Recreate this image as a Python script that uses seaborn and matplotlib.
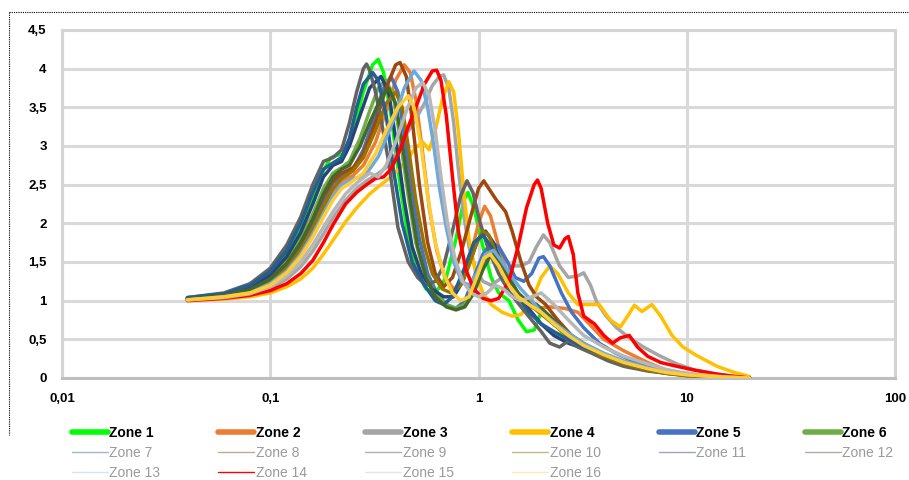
import matplotlib
matplotlib.use("Agg")
import matplotlib.pyplot as plt
from matplotlib.lines import Line2D
from matplotlib.ticker import FixedLocator, FixedFormatter, NullLocator
import seaborn as sns
import pandas as pd

# ---------------- data (frequency [Hz], amplification) ----------------
zone_names = [f"Zone {i}" for i in range(1, 17)]

zone1 = [(0.04,1.03),(0.06,1.08),(0.08,1.18),(0.10,1.35),(0.12,1.60),(0.14,1.92),(0.16,2.30),(0.18,2.68),
         (0.195,2.85),(0.21,2.88),(0.23,2.90),(0.25,3.20),(0.28,3.70),(0.31,4.05),(0.33,4.12),(0.35,3.95),
         (0.38,3.40),(0.42,2.50),(0.46,1.80),(0.50,1.40),(0.56,1.15),(0.62,1.10),(0.70,1.30),(0.78,1.80),
         (0.85,2.30),(0.89,2.40),(0.95,2.20),(1.05,1.70),(1.15,1.30),(1.25,1.10),(1.40,1.00),(1.55,0.75),
         (1.70,0.60),(1.85,0.62),(2.0,0.85),(2.2,0.80),(2.5,0.60),(2.9,0.50),(3.4,0.38),(4.0,0.28),
         (5.0,0.20),(6.5,0.12),(8.0,0.07),(10,0.04),(13,0.02),(16,0.01),(20,0.0)]
zone2 = [(0.04,1.02),(0.06,1.06),(0.08,1.12),(0.10,1.24),(0.12,1.42),(0.14,1.65),(0.16,1.92),(0.18,2.20),
         (0.20,2.42),(0.22,2.55),(0.25,2.62),(0.28,2.75),(0.32,3.05),(0.36,3.45),(0.40,3.85),(0.44,4.05),
         (0.47,3.95),(0.50,3.60),(0.54,2.90),(0.58,2.20),(0.63,1.65),(0.69,1.30),(0.76,1.15),(0.84,1.25),
         (0.92,1.60),(1.0,2.00),(1.07,2.22),(1.14,2.10),(1.25,1.70),(1.40,1.30),(1.55,1.05),(1.70,0.92),
         (1.9,0.90),(2.2,0.92),(2.6,0.90),(3.0,0.85),(3.4,0.70),(4.0,0.50),(5.0,0.35),(6.5,0.20),
         (8.0,0.10),(10,0.05),(13,0.02),(16,0.01),(20,0.0)]
zone3 = [(0.04,1.01),(0.06,1.04),(0.08,1.08),(0.10,1.16),(0.12,1.28),(0.14,1.44),(0.16,1.64),(0.18,1.86),
         (0.20,2.07),(0.23,2.30),(0.26,2.45),(0.29,2.55),(0.32,2.62),(0.36,2.72),(0.40,2.90),(0.45,3.15),
         (0.50,3.35),(0.55,3.55),(0.60,3.78),(0.65,3.90),(0.68,3.92),(0.72,3.75),(0.76,3.30),(0.80,2.70),
         (0.85,2.10),(0.90,1.70),(0.97,1.40),(1.05,1.25),(1.15,1.20),(1.30,1.30),(1.45,1.45),(1.60,1.45),
         (1.75,1.50),(1.90,1.70),(2.05,1.85),(2.2,1.75),(2.45,1.45),(2.7,1.30),(3.0,1.32),(3.2,1.36),
         (3.45,1.20),(3.7,0.98),(4.1,0.80),(4.6,0.65),(5.3,0.52),(6.2,0.40),(7.5,0.28),(9.0,0.18),
         (11,0.10),(14,0.05),(17,0.02),(20,0.0)]
zone4 = [(0.04,1.00),(0.06,1.02),(0.08,1.05),(0.10,1.10),(0.12,1.18),(0.14,1.28),(0.16,1.42),(0.18,1.60),
         (0.20,1.78),(0.23,2.02),(0.26,2.20),(0.30,2.38),(0.34,2.50),(0.38,2.60),(0.42,2.72),(0.46,2.85),
         (0.50,2.98),(0.54,3.05),(0.58,2.95),(0.62,3.20),(0.67,3.60),(0.72,3.83),(0.76,3.70),(0.80,3.20),
         (0.85,2.40),(0.90,1.80),(0.97,1.35),(1.05,1.10),(1.15,0.95),(1.30,0.85),(1.45,0.80),(1.60,0.82),
         (1.8,1.00),(2.0,1.30),(2.2,1.45),(2.4,1.35),(2.7,1.10),(3.0,0.95),(3.4,0.95),(3.8,0.95),
         (4.3,0.75),(4.8,0.66),(5.2,0.80),(5.6,0.94),(6.1,0.86),(6.8,0.95),(7.5,0.80),(8.5,0.55),
         (9.6,0.40),(11,0.30),(14,0.15),(17,0.07),(20,0.02)]
zone5 = [(0.04,1.02),(0.06,1.06),(0.08,1.13),(0.10,1.26),(0.12,1.45),(0.14,1.70),(0.16,2.00),(0.18,2.30),
         (0.20,2.52),(0.22,2.62),(0.25,2.70),(0.28,2.95),(0.31,3.30),(0.35,3.75),(0.38,3.90),(0.41,3.70),
         (0.44,3.15),(0.48,2.40),(0.52,1.80),(0.57,1.35),(0.63,1.10),(0.70,0.95),(0.78,0.90),(0.86,1.00),
         (0.95,1.30),(1.05,1.60),(1.15,1.75),(1.25,1.70),(1.38,1.50),(1.50,1.30),(1.65,1.25),(1.80,1.35),
         (1.95,1.55),(2.05,1.57),(2.2,1.45),(2.5,1.10),(2.8,0.85),(3.2,0.65),(3.8,0.45),(4.5,0.33),
         (5.5,0.22),(7.0,0.13),(9.0,0.07),(12,0.03),(16,0.01),(20,0.0)]
zone6 = [(0.04,1.02),(0.06,1.07),(0.08,1.15),(0.10,1.30),(0.12,1.52),(0.14,1.80),(0.16,2.12),(0.18,2.45),
         (0.20,2.65),(0.22,2.72),(0.24,2.80),(0.27,3.10),(0.30,3.45),(0.33,3.75),(0.36,3.85),(0.39,3.65),
         (0.42,3.10),(0.46,2.35),(0.50,1.75),(0.55,1.35),(0.62,1.10),(0.70,0.95),(0.78,0.90),(0.86,0.95),
         (0.95,1.15),(1.05,1.45),(1.15,1.70),(1.25,1.60),(1.38,1.35),(1.50,1.15),(1.65,1.00),(1.80,0.95),
         (2.0,0.90),(2.3,0.72),(2.7,0.55),(3.2,0.42),(4.0,0.30),(5.0,0.20),(6.5,0.12),(8.0,0.07),
         (10,0.04),(13,0.02),(16,0.01),(20,0.0)]
zone7 = [(0.04,1.03),(0.06,1.08),(0.08,1.17),(0.10,1.33),(0.12,1.57),(0.14,1.88),(0.16,2.25),(0.18,2.60),
         (0.20,2.75),(0.22,2.80),(0.24,3.00),(0.27,3.40),(0.30,3.75),(0.34,3.90),(0.37,3.70),(0.40,3.10),
         (0.44,2.30),(0.48,1.70),(0.53,1.35),(0.60,1.15),(0.68,1.05),(0.76,1.05),(0.84,1.25),(0.92,1.55),
         (1.0,1.80),(1.08,1.90),(1.18,1.75),(1.30,1.45),(1.45,1.20),(1.60,1.00),(1.8,0.85),(2.0,0.70),
         (2.3,0.55),(2.7,0.45),(3.2,0.38),(4.0,0.28),(5.0,0.20),(6.5,0.12),(8.0,0.07),(10,0.04),
         (13,0.02),(16,0.01),(20,0.0)]
zone8 = [(0.04,1.02),(0.06,1.07),(0.08,1.14),(0.10,1.28),(0.12,1.48),(0.14,1.74),(0.16,2.05),(0.18,2.35),
         (0.20,2.55),(0.22,2.65),(0.25,2.72),(0.28,2.90),(0.32,3.30),(0.36,3.75),(0.40,4.05),(0.42,4.08),
         (0.45,3.90),(0.48,3.35),(0.52,2.50),(0.57,1.75),(0.62,1.35),(0.68,1.18),(0.75,1.30),(0.83,1.65),
         (0.92,2.10),(1.0,2.45),(1.06,2.55),(1.12,2.45),(1.22,2.30),(1.35,2.15),(1.45,1.90),(1.60,1.50),
         (1.75,1.20),(1.9,1.05),(2.1,0.95),(2.4,0.75),(2.8,0.55),(3.3,0.42),(4.0,0.30),(5.0,0.20),
         (6.5,0.11),(8.0,0.06),(10,0.03),(13,0.02),(16,0.01),(20,0.0)]
zone9 = [(0.04,1.04),(0.06,1.10),(0.08,1.22),(0.10,1.42),(0.12,1.72),(0.14,2.08),(0.16,2.50),(0.18,2.80),
         (0.20,2.85),(0.22,2.95),(0.24,3.30),(0.26,3.70),(0.28,4.00),(0.29,4.06),(0.30,3.98),(0.32,3.70),
         (0.34,3.35),(0.37,2.80),(0.41,1.95),(0.46,1.50),(0.51,1.30),(0.56,1.20),(0.62,1.25),(0.68,1.45),
         (0.75,1.90),(0.82,2.35),(0.88,2.55),(0.94,2.40),(1.02,2.00),(1.12,1.65),(1.25,1.35),(1.40,1.12),
         (1.60,0.92),(1.8,0.75),(2.0,0.60),(2.2,0.45),(2.45,0.40),(2.7,0.48),(3.0,0.40),(3.5,0.32),
         (4.2,0.22),(5.0,0.15),(6.5,0.09),(8.0,0.06),(10,0.04),(13,0.02),(16,0.01),(20,0.0)]
zone10 = [(0.04,1.02),(0.06,1.06),(0.08,1.12),(0.10,1.24),(0.12,1.42),(0.14,1.65),(0.16,1.93),(0.18,2.22),
          (0.20,2.45),(0.22,2.58),(0.25,2.68),(0.28,2.85),(0.32,3.20),(0.36,3.55),(0.40,3.70),(0.43,3.50),
          (0.46,3.00),(0.50,2.30),(0.55,1.70),(0.60,1.35),(0.67,1.15),(0.74,1.10),(0.82,1.20),(0.90,1.45),
          (0.98,1.75),(1.05,1.90),(1.12,1.85),(1.22,1.60),(1.35,1.35),(1.50,1.15),(1.65,1.00),(1.85,0.90),
          (2.1,0.78),(2.4,0.65),(2.8,0.50),(3.3,0.38),(4.0,0.28),(5.0,0.18),(6.5,0.10),(8.0,0.06),
          (10,0.03),(13,0.02),(16,0.01),(20,0.0)]
zone11 = [(0.04,1.04),(0.06,1.09),(0.08,1.20),(0.10,1.38),(0.12,1.65),(0.14,2.00),(0.16,2.40),(0.18,2.70),
          (0.20,2.78),(0.22,2.85),(0.24,3.10),(0.26,3.50),(0.28,3.80),(0.31,3.95),(0.33,3.85),(0.36,3.40),
          (0.39,2.70),(0.43,2.00),(0.48,1.50),(0.55,1.20),(0.62,1.00),(0.68,0.95),(0.75,1.05),(0.85,1.40),
          (0.95,1.75),(1.05,1.85),(1.15,1.70),(1.30,1.40),(1.50,1.10),(1.75,0.85),(2.0,0.70),(2.3,0.60),
          (2.7,0.50),(3.2,0.40),(4.0,0.30),(5.0,0.20),(6.5,0.12),(8.0,0.07),(10,0.04),(13,0.02),
          (16,0.01),(20,0.0)]
zone12 = [(0.04,1.02),(0.06,1.07),(0.08,1.14),(0.10,1.28),(0.12,1.48),(0.14,1.75),(0.16,2.05),(0.18,2.38),
          (0.20,2.60),(0.22,2.70),(0.24,2.75),(0.27,3.00),(0.30,3.30),(0.34,3.62),(0.37,3.75),(0.40,3.55),
          (0.43,3.05),(0.47,2.30),(0.51,1.70),(0.56,1.30),(0.62,1.05),(0.70,0.92),(0.78,0.88),(0.86,0.92),
          (0.95,1.10),(1.05,1.40),(1.15,1.60),(1.25,1.52),(1.40,1.30),(1.55,1.10),(1.70,1.00),(1.9,0.95),
          (2.1,0.85),(2.4,0.70),(2.8,0.55),(3.3,0.42),(4.0,0.30),(5.0,0.20),(6.5,0.12),(8.0,0.07),
          (10,0.04),(13,0.02),(16,0.01),(20,0.0)]
zone13 = [(0.04,1.01),(0.06,1.05),(0.08,1.10),(0.10,1.22),(0.12,1.38),(0.14,1.60),(0.16,1.86),(0.18,2.12),
          (0.20,2.35),(0.22,2.50),(0.25,2.58),(0.28,2.60),(0.30,2.70),(0.33,2.86),(0.36,3.10),(0.40,3.40),
          (0.44,3.75),(0.49,3.97),(0.53,3.85),(0.57,3.50),(0.61,3.00),(0.65,2.45),(0.70,1.95),(0.76,1.50),
          (0.83,1.25),(0.90,1.20),(0.98,1.35),(1.08,1.60),(1.18,1.65),(1.30,1.50),(1.45,1.30),(1.60,1.15),
          (1.8,1.00),(2.0,0.85),(2.3,0.72),(2.7,0.58),(3.2,0.45),(4.0,0.32),(5.0,0.22),(6.5,0.13),
          (8.0,0.08),(10,0.05),(13,0.02),(16,0.01),(20,0.0)]
zone14 = [(0.04,1.00),(0.06,1.03),(0.08,1.07),(0.10,1.13),(0.12,1.22),(0.14,1.35),(0.16,1.52),(0.18,1.75),
          (0.20,1.98),(0.23,2.25),(0.26,2.40),(0.29,2.50),(0.32,2.58),(0.35,2.60),(0.38,2.70),(0.42,2.95),
          (0.46,3.25),(0.50,3.50),(0.55,3.80),(0.60,3.97),(0.63,3.98),(0.66,3.85),(0.70,3.40),(0.75,2.60),
          (0.80,1.90),(0.87,1.40),(0.95,1.15),(1.05,1.03),(1.15,1.00),(1.25,1.03),(1.40,1.25),(1.55,1.70),
          (1.70,2.20),(1.85,2.50),(1.92,2.56),(2.0,2.45),(2.15,2.00),(2.3,1.72),(2.45,1.68),(2.6,1.80),
          (2.7,1.83),(2.85,1.60),(3.0,1.10),(3.2,0.80),(3.6,0.70),(4.0,0.55),(4.4,0.45),(4.8,0.52),
          (5.3,0.55),(5.8,0.40),(6.5,0.28),(7.5,0.20),(9.0,0.15),(11,0.10),(14,0.05),(17,0.02),(20,0.0)]
zone15 = [(0.04,1.01),(0.06,1.04),(0.08,1.09),(0.10,1.18),(0.12,1.32),(0.14,1.50),(0.16,1.72),(0.18,1.95),
          (0.20,2.15),(0.23,2.38),(0.26,2.52),(0.30,2.65),(0.33,2.60),(0.36,2.75),(0.40,3.05),(0.45,3.45),
          (0.50,3.75),(0.54,3.82),(0.58,3.65),(0.62,3.20),(0.66,2.60),(0.71,2.00),(0.77,1.55),(0.84,1.25),
          (0.92,1.10),(1.0,1.05),(1.10,1.10),(1.20,1.20),(1.32,1.15),(1.45,1.05),(1.60,1.00),(1.8,1.05),
          (2.0,1.10),(2.3,0.95),(2.7,0.75),(3.2,0.55),(4.0,0.40),(5.0,0.28),(6.5,0.18),(8.0,0.11),
          (10,0.06),(13,0.03),(16,0.01),(20,0.0)]
zone16 = [(0.04,1.01),(0.06,1.05),(0.08,1.10),(0.10,1.20),(0.12,1.36),(0.14,1.57),(0.16,1.82),(0.18,2.08),
          (0.20,2.30),(0.22,2.45),(0.25,2.55),(0.28,2.65),(0.32,2.90),(0.36,3.20),(0.41,3.50),(0.46,3.65),
          (0.49,3.50),(0.53,3.00),(0.57,2.35),(0.62,1.75),(0.68,1.35),(0.75,1.10),(0.82,1.00),(0.90,1.05),
          (0.98,1.30),(1.06,1.55),(1.14,1.60),(1.25,1.45),(1.40,1.20),(1.55,1.05),(1.75,0.95),(2.0,0.85),
          (2.3,0.70),(2.7,0.55),(3.2,0.42),(4.0,0.30),(5.0,0.20),(6.5,0.12),(8.0,0.07),(10,0.04),
          (13,0.02),(16,0.01),(20,0.0)]

zones = [zone1, zone2, zone3, zone4, zone5, zone6, zone7, zone8,
         zone9, zone10, zone11, zone12, zone13, zone14, zone15, zone16]

zone_colors = ["#00FF00", "#ED7D31", "#A5A5A5", "#FFC000", "#4472C4", "#70AD47",
               "#264478", "#9E480E", "#636363", "#997300", "#255E91", "#43682B",
               "#6FA8DC", "#FF0000", "#B7B7B7", "#FFCD33"]
legend_line_colors = ["#00FF00", "#ED7D31", "#A5A5A5", "#FFC000", "#4472C4", "#70AD47",
                      "#a3b6cf", "#c9a690", "#b0b0b0", "#c4b68c", "#9aa7bf", "#a6b39f",
                      "#d9e4f2", "#FF0000", "#e6e6e6", "#fbe9b8"]

x_ticks = [0.01, 0.1, 1, 10, 100]
x_tick_labels = ["0,01", "0,1", "1", "10", "100"]
y_ticks = [0, 0.5, 1, 1.5, 2, 2.5, 3, 3.5, 4, 4.5]
y_tick_labels = ["0", "0,5", "1", "1,5", "2", "2,5", "3", "3,5", "4", "4,5"]

# ---------------- build table ----------------
rows = []
for name, pts in zip(zone_names, zones):
    for i, (f, a) in enumerate(pts):
        rows.append({"zone": name, "order": i, "freq": f, "amp": a})
df = pd.DataFrame(rows)

sns.set_theme(style="white")
plt.rcParams["font.family"] = ["Liberation Sans", "DejaVu Sans"]

fig = plt.figure(figsize=(9.09, 4.80), dpi=100)
ax = fig.add_axes([62/909, 1-378/480, (895-62)/909, (378-30)/480])

sns.lineplot(data=df, x="freq", y="amp", hue="zone", hue_order=zone_names,
             palette=dict(zip(zone_names, zone_colors)), sort=False,
             estimator=None, linewidth=2.5, legend=False, ax=ax, zorder=3)

ax.set_xscale("log")
ax.set_xlim(0.01, 100)
ax.set_ylim(0, 4.5)
ax.xaxis.set_major_locator(FixedLocator(x_ticks))
ax.xaxis.set_major_formatter(FixedFormatter(x_tick_labels))
ax.xaxis.set_minor_locator(NullLocator())
ax.set_yticks(y_ticks)
ax.set_yticklabels(y_tick_labels)
ax.set_xlabel("")
ax.set_ylabel("")
ax.tick_params(axis="both", length=0, labelsize=9.5, colors="black")
ax.tick_params(axis="y", pad=11)
ax.tick_params(axis="x", pad=11)
for lab in ax.get_xticklabels() + ax.get_yticklabels():
    lab.set_fontweight("bold")

ax.grid(True, color="#D9D9D9", linewidth=2.2, zorder=0)
ax.set_axisbelow(True)
for side in ["left", "bottom", "right", "top"]:
    ax.spines[side].set_visible(True)
    ax.spines[side].set_color("#D4D4D4")
    ax.spines[side].set_linewidth(2.2)
ax.spines["bottom"].set_color("#BFBFBF")

# chart frame (dotted)
fig.add_artist(Line2D([9/909, 1.0], [1-12/480, 1-12/480], transform=fig.transFigure,
                      color="black", linewidth=0.8, linestyle=(0, (1, 1))))
fig.add_artist(Line2D([9/909, 9/909], [1-12/480, 1-435/480], transform=fig.transFigure,
                      color="black", linewidth=0.8, linestyle=(0, (1, 1))))

# legend (row-major order, 6 columns)
order = [0, 6, 12, 1, 7, 13, 2, 8, 14, 3, 9, 15, 4, 10, 5, 11]
handles, labels = [], []
for k in order:
    lw = 4.0 if k < 6 else 1.0
    handles.append(Line2D([], [], color=legend_line_colors[k], linewidth=lw,
                          solid_capstyle="round"))
    labels.append(zone_names[k])
leg = fig.legend(handles, labels, ncol=6, loc="upper left",
                 bbox_to_anchor=(66/909, 1-420/480), frameon=False,
                 fontsize=10, handlelength=2.6, handletextpad=0.1,
                 columnspacing=4.2, labelspacing=0.45, borderaxespad=0)
for k, txt in zip(order, leg.get_texts()):
    if k < 6:
        txt.set_fontweight("bold")
        txt.set_color("black")
    else:
        txt.set_color("#9a9a9a")

fig.savefig("out.png", dpi=100)
